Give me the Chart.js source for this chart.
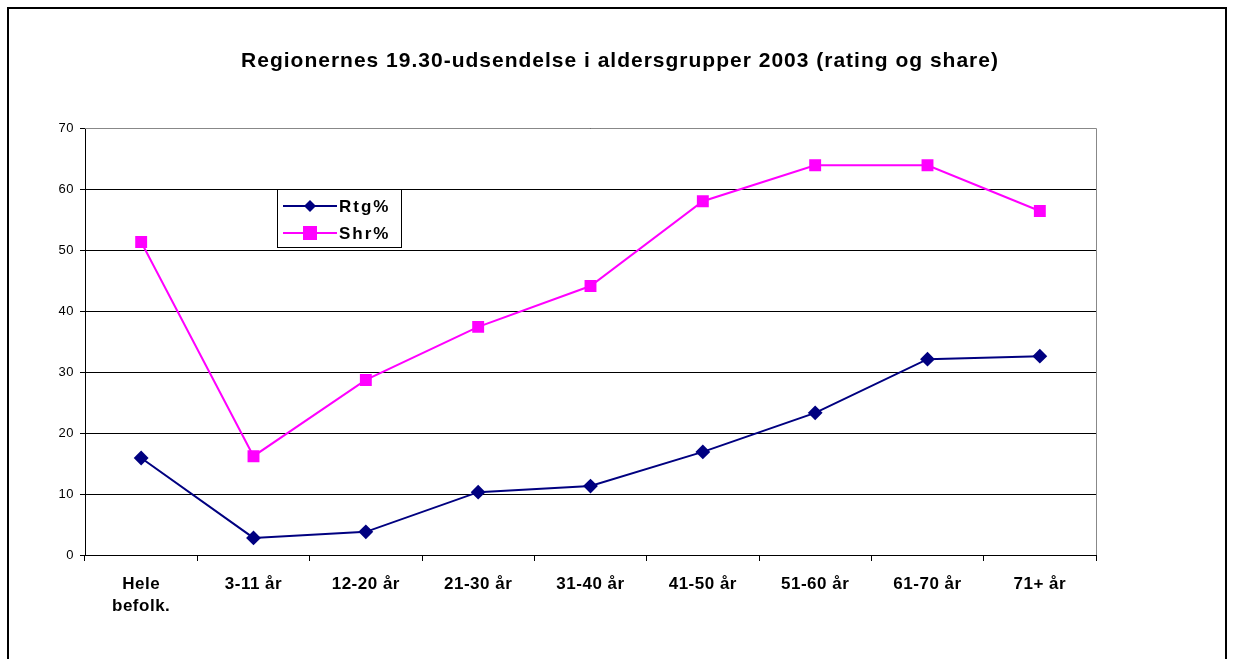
<!DOCTYPE html>
<html>
<head>
<meta charset="utf-8">
<script src="https://cdn.jsdelivr.net/npm/chart.js@4"></script>
<style>
  html, body { margin: 0; padding: 0; background: #fff; }
  #wrap { width: 1234px; height: 659px; }
</style>
</head>
<body>
<div id="wrap"><canvas id="lineChart"></canvas></div>
<script>
const categories = [['Hele', 'befolk.'], '3-11 år', '12-20 år', '21-30 år', '31-40 år', '41-50 år', '51-60 år', '61-70 år', '71+ år'];
const rtg = [15.9, 2.8, 3.8, 10.3, 11.3, 16.9, 23.3, 32.1, 32.6];
const shr = [51.3, 16.2, 28.7, 37.4, 44.1, 58.0, 63.9, 63.9, 56.4];
const yTicks = [0, 10, 20, 30, 40, 50, 60, 70];
const titleText = 'Regionernes 19.30-udsendelse i aldersgrupper 2003 (rating og share)';

// frame round the whole picture, the plot area and the title
const framePlugin = {
    id: 'frame',
    beforeDraw(chart) {
        const ctx = chart.ctx;
        ctx.letterSpacing = '0.5px';
        ctx.save();
        ctx.strokeStyle = '#000';
        ctx.lineWidth = 2;
        ctx.strokeRect(8, 8, 1218, 700);
        ctx.fillStyle = '#000';
        ctx.font = 'bold 21px Arial';
        ctx.letterSpacing = '1px';
        ctx.textAlign = 'center';
        ctx.textBaseline = 'alphabetic';
        ctx.fillText(titleText, 620, 67);
        ctx.restore();
    },
    afterDatasetsDraw(chart) {
        const a = chart.chartArea, ctx = chart.ctx;
        ctx.save();
        ctx.strokeStyle = '#888';
        ctx.lineWidth = 1;
        ctx.beginPath();
        ctx.moveTo(a.left, a.top + 0.5);
        ctx.lineTo(a.right + 0.5, a.top + 0.5);
        ctx.lineTo(a.right + 0.5, a.bottom);
        ctx.stroke();
        ctx.restore();
    }
};

// legend box inside the plot, as in the original
const boxLegend = {
    id: 'boxLegend',
    afterDraw(chart) {
        const ctx = chart.ctx;
        const x = 277, y = 189, w = 124, h = 58;
        ctx.save();
        ctx.fillStyle = '#fff';
        ctx.fillRect(x, y, w, h);
        ctx.strokeStyle = '#000';
        ctx.lineWidth = 1;
        ctx.strokeRect(x + 0.5, y + 0.5, w, h);
        chart.data.datasets.forEach((ds, i) => {
            const ly = y + 17 + i * 27;
            ctx.strokeStyle = ds.borderColor;
            ctx.lineWidth = 2;
            ctx.beginPath();
            ctx.moveTo(x + 6, ly);
            ctx.lineTo(x + 60, ly);
            ctx.stroke();
            ctx.fillStyle = ds.pointBackgroundColor;
            ctx.beginPath();
            if (ds.pointStyle === 'rectRot') {
                ctx.moveTo(x + 33, ly - 6);
                ctx.lineTo(x + 39, ly);
                ctx.lineTo(x + 33, ly + 6);
                ctx.lineTo(x + 27, ly);
                ctx.closePath();
            } else {
                ctx.rect(x + 26, ly - 7, 14, 14);
            }
            ctx.fill();
            ctx.fillStyle = '#000';
            ctx.font = 'bold 17px Arial';
            ctx.letterSpacing = '2px';
            ctx.textBaseline = 'middle';
            ctx.fillText(ds.label, x + 62, ly + 1);
        });
        ctx.restore();
    }
};

new Chart(document.getElementById('lineChart'), {
    type: 'line',
    data: {
        labels: categories,
        datasets: [
            {
                label: 'Rtg%',
                data: rtg,
                borderColor: '#000080',
                backgroundColor: '#000080',
                pointBackgroundColor: '#000080',
                pointBorderColor: '#000080',
                pointStyle: 'rectRot',
                pointRadius: 6,
                borderWidth: 2,
                tension: 0
            },
            {
                label: 'Shr%',
                data: shr,
                borderColor: '#FF00FF',
                backgroundColor: '#FF00FF',
                pointBackgroundColor: '#FF00FF',
                pointBorderColor: '#FF00FF',
                pointStyle: 'rect',
                pointRadius: 7,
                borderWidth: 2,
                tension: 0
            }
        ]
    },
    options: {
        responsive: true,
        maintainAspectRatio: false,
        animation: false,
        layout: { padding: { left: 0, right: 138, top: 128, bottom: 39 } },
        plugins: {
            legend: { display: false },
            tooltip: { enabled: false },
            title: { display: false }
        },
        scales: {
            x: {
                offset: true,
                grid: { offset: true, drawOnChartArea: false, drawTicks: true, tickLength: 6, color: '#000' },
                border: { color: '#000', width: 1 },
                ticks: { color: '#000', font: { family: 'Arial', size: 17, weight: 'bold', lineHeight: 1.25 }, maxRotation: 0, padding: 13 },
                afterFit(scale) { scale.height = 65; }
            },
            y: {
                min: 0,
                max: 70,
                afterBuildTicks(scale) { scale.ticks = yTicks.map(v => ({ value: v })); },
                grid: { color: '#000', lineWidth: 1, tickLength: 5 },
                border: { color: '#000', width: 1 },
                ticks: { color: '#000', font: { family: 'Arial', size: 13 }, padding: 6 },
                afterFit(scale) { scale.width = 85; }
            }
        }
    },
    plugins: [framePlugin, boxLegend]
});
</script>
</body>
</html>
